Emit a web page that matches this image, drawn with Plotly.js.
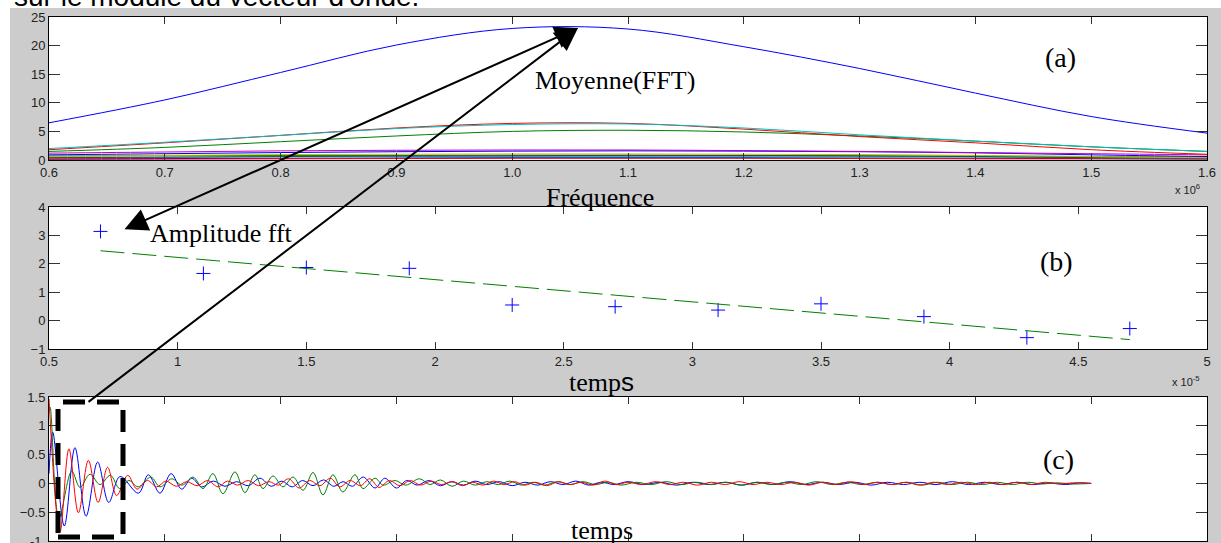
<!DOCTYPE html>
<html><head><meta charset="utf-8">
<script src="https://cdn.plot.ly/plotly-3.0.1.min.js"></script>
<style>html,body{margin:0;padding:0;background:#fff;}#chart{width:1221px;height:543px;}</style>
</head><body><div id="chart"></div>
<script>
// ---------- Panel (a): spectra vs frequency (x 10^6) ----------
const freq = [0.6, 0.7, 0.8, 0.9, 1.0, 1.1, 1.2, 1.3, 1.4, 1.5, 1.6];
const fftMean   = [6.5, 10.5, 15.3, 20.1, 23.0, 22.9, 19.8, 16.0, 11.7, 7.6, 4.7];
const fftRed    = [1.8, 3.0, 4.3, 5.6, 6.4, 6.4, 5.4, 4.1, 3.0, 1.8, 1.0];
const fftCyan   = [2.0, 3.1, 4.3, 5.5, 6.2, 6.3, 5.6, 4.4, 3.3, 2.3, 1.5];
const fftGreen  = [1.5, 2.2, 3.2, 4.2, 5.0, 5.2, 4.9, 4.2, 3.3, 2.3, 1.5];
const fftMag    = [1.2, 1.4, 1.6, 1.7, 1.75, 1.75, 1.65, 1.5, 1.3, 1.1, 0.9];
const fftBlue2  = [0.9, 1.1, 1.3, 1.45, 1.55, 1.6, 1.55, 1.45, 1.25, 0.9, 0.6];
const fftYellow = [0.6, 0.8, 0.95, 1.0, 1.05, 1.05, 1.0, 0.95, 0.8, 0.6, 0.4];
const fftBlack  = [0.4, 0.5, 0.6, 0.7, 0.75, 0.8, 0.8, 0.7, 0.6, 0.4, 0.3];
const fftGreen2 = [0.7, 0.75, 0.8, 0.8, 0.85, 0.85, 0.8, 0.75, 0.7, 0.6, 0.5];
const fftCyan2  = [0.4, 0.45, 0.55, 0.6, 0.6, 0.6, 0.6, 0.55, 0.5, 0.4, 0.3];
const fftBlue3  = [0.2, 0.25, 0.3, 0.35, 0.4, 0.4, 0.4, 0.35, 0.3, 0.25, 0.2];
const fftRed2   = [0.1, 0.15, 0.2, 0.25, 0.3, 0.3, 0.3, 0.25, 0.2, 0.2, 0.15];

// ---------- Panel (b): amplitude vs time (x 10^-5) ----------
const tAmp = [0.7, 1.1, 1.5, 1.9, 2.3, 2.7, 3.1, 3.5, 3.9, 4.3, 4.7];
const amp  = [3.14, 1.66, 1.87, 1.84, 0.55, 0.49, 0.37, 0.59, 0.14, -0.60, -0.28];
const tFit = [0.7, 4.7];
const ampFit = [2.46, -0.67];

// ---------- Panel (c): signals vs time (extrema) ----------
const tBlue = [0, 0.16, 0.66, 1.12, 1.60, 2.10, 2.58, 3.07, 3.86, 4.29, 4.79, 5.27, 5.73, 6.16, 6.59, 7.10, 7.60, 8.10, 8.60, 9.11, 9.60, 10.05, 10.50, 10.95, 11.40, 11.85, 12.30, 12.70, 13.10, 13.57, 14.08, 14.50, 15.00, 15.45, 15.90, 16.40, 16.90, 17.40, 17.90, 18.40, 18.90, 19.45, 20.00, 20.55, 21.10, 21.65, 22.20, 22.75, 23.30, 23.85, 24.40, 25.00, 25.70, 26.40, 27.10, 27.80, 28.50, 29.20, 29.90, 30.60, 31.30, 32.00, 32.70, 33.40, 34.10, 34.80, 35.50, 36.20, 36.90, 37.60, 38.30, 39.00, 39.70, 40.40, 41.10, 41.80, 42.50, 43.20, 43.90, 44.50, 45.00];
const sBlue = [0.17, 0.89, -0.74, 0.62, -0.57, 0.37, -0.33, 0.12, -0.17, 0.15, -0.17, 0.17, -0.10, 0.09, -0.06, 0.04, -0.05, 0.03, -0.04, 0.09, -0.05, 0.04, -0.06, 0.05, -0.04, 0.06, -0.05, 0.03, -0.05, 0.11, -0.08, 0.09, -0.08, 0.05, -0.03, 0.05, -0.04, 0.03, -0.03, 0.04, -0.02, 0.03, -0.04, 0.02, -0.03, 0.03, -0.02, 0.04, -0.03, 0.02, -0.02, 0.03, -0.02, 0.02, -0.03, 0.02, -0.02, 0.02, -0.03, 0.02, -0.02, 0.03, -0.02, 0.02, -0.02, 0.02, -0.03, 0.02, -0.02, 0.02, -0.02, 0.03, -0.02, 0.02, -0.02, 0.02, -0.02, 0.01, -0.02, 0.01, 0.0];
const tGreen = [0, 0.05, 0.43, 0.98, 1.34, 1.77, 2.20, 2.65, 3.05, 3.45, 3.85, 4.40, 4.79, 5.30, 5.75, 6.22, 6.65, 7.08, 7.51, 8.03, 8.46, 8.89, 9.24, 9.67, 10.10, 10.54, 10.97, 11.40, 11.83, 12.26, 12.69, 13.21, 13.56, 14.08, 14.42, 14.94, 15.40, 16.00, 16.45, 16.90, 17.40, 17.90, 18.40, 18.90, 19.40, 19.90, 20.40, 20.90, 21.40, 21.95, 22.50, 23.05, 23.60, 24.15, 24.70, 25.35, 26.00, 26.65, 27.30, 27.95, 28.60, 29.25, 29.90, 30.55, 31.20, 31.85, 32.50, 33.15, 33.80, 34.45, 35.10, 35.75, 36.40, 37.05, 37.70, 38.35, 39.00, 39.65, 40.30, 40.95, 41.60, 42.25, 42.90, 43.55, 44.20, 45.00];
const sGreen = [1.25, 1.32, -0.60, 0.21, -0.07, 0.16, -0.02, 0.14, -0.09, 0.05, -0.06, 0.11, -0.06, 0.08, -0.03, 0.11, -0.09, 0.17, -0.18, 0.20, -0.16, 0.15, -0.09, 0.13, -0.06, 0.11, -0.12, 0.19, -0.20, 0.15, -0.15, 0.15, -0.09, 0.09, -0.03, 0.05, -0.03, 0.08, -0.02, 0.06, -0.05, 0.04, -0.03, 0.03, -0.02, 0.04, -0.03, 0.02, -0.03, 0.03, -0.02, 0.03, -0.02, 0.02, -0.03, 0.02, -0.02, 0.03, -0.02, 0.02, -0.02, 0.02, -0.03, 0.02, -0.02, 0.02, -0.02, 0.03, -0.02, 0.02, -0.02, 0.02, -0.02, 0.02, -0.03, 0.02, -0.02, 0.02, -0.02, 0.02, -0.02, 0.02, -0.01, 0.01, -0.01, 0.0];
const tRed = [0, 0.47, 0.86, 1.27, 1.70, 2.12, 2.53, 2.92, 3.40, 3.80, 4.25, 4.65, 5.05, 5.50, 5.95, 6.40, 6.85, 7.30, 7.70, 8.15, 8.60, 9.05, 9.50, 9.90, 10.35, 10.80, 11.25, 11.70, 12.15, 12.55, 13.00, 13.45, 13.85, 14.25, 14.70, 15.15, 15.60, 16.05, 16.50, 16.95, 17.40, 17.85, 18.30, 18.75, 19.20, 19.65, 20.10, 20.55, 21.00, 21.50, 22.00, 22.50, 23.00, 23.50, 24.00, 24.50, 25.00, 25.60, 26.20, 26.80, 27.40, 28.00, 28.60, 29.20, 29.80, 30.40, 31.00, 31.60, 32.20, 32.80, 33.40, 34.00, 34.60, 35.20, 35.80, 36.40, 37.00, 37.60, 38.20, 38.80, 39.40, 40.00, 40.60, 41.20, 41.80, 42.40, 43.00, 43.60, 44.20, 45.00];
const sRed = [1.47, -0.85, 0.60, -0.51, 0.40, -0.33, 0.28, -0.21, 0.14, -0.10, 0.05, -0.06, 0.04, -0.05, 0.03, -0.04, 0.05, -0.06, 0.04, -0.03, 0.05, -0.04, 0.03, -0.03, 0.08, -0.08, 0.05, -0.04, 0.09, -0.06, 0.05, -0.04, 0.08, -0.07, 0.05, -0.04, 0.05, -0.03, 0.04, -0.02, 0.03, -0.04, 0.02, -0.03, 0.04, -0.02, 0.03, -0.03, 0.02, -0.04, 0.03, -0.02, 0.02, -0.03, 0.04, -0.02, 0.02, -0.02, 0.03, -0.02, 0.02, -0.03, 0.02, -0.02, 0.03, -0.02, 0.02, -0.02, 0.02, -0.03, 0.02, -0.02, 0.03, -0.02, 0.02, -0.02, 0.02, -0.03, 0.02, -0.02, 0.02, -0.02, 0.02, -0.02, 0.02, -0.02, 0.02, -0.01, 0.01, 0.0];

// ---------- layout helpers (pixel -> paper) ----------
const W = 1221, H = 543;
const px = x => x / W;
const py = y => 1 - y / H;

const C = {b:'#0000ff', g:'#008000', r:'#ff0000', c:'#00bfbf', m:'#bf00bf', y:'#bfbf00', k:'#404040'};
const fftSets = [
  [fftBlue3, C.b], [fftRed2, C.r], [fftCyan2, C.c], [fftGreen2, C.g], [fftBlack, C.k],
  [fftYellow, C.y], [fftBlue2, C.b], [fftMag, C.m], [fftGreen, C.g], [fftRed, C.r],
  [fftCyan, C.c], [fftMean, C.b]
];
const traces = fftSets.map(([v, col]) => ({
  x: freq, y: v, xaxis:'x', yaxis:'y', mode:'lines',
  line:{color:col, width:1, shape:'spline', smoothing:1}, hoverinfo:'skip'
}));
traces.push({x: tAmp, y: amp, xaxis:'x2', yaxis:'y2', mode:'markers',
  marker:{symbol:'cross-thin', size:10, line:{color:'#0000ff', width:1}}});
traces.push({x: tFit, y: ampFit, xaxis:'x2', yaxis:'y2', mode:'lines',
  line:{color:'#008000', width:1, dash:'24px,8px'}});
[[tBlue, sBlue, C.b], [tGreen, sGreen, C.g], [tRed, sRed, C.r]].forEach(([t, s, col]) => {
  traces.push({x: t, y: s, xaxis:'x3', yaxis:'y3', mode:'lines',
    line:{color:col, width:1, shape:'spline', smoothing:1}});
});

const xDom = [px(49), px(1207)];
const sans = 'Liberation Sans, Arial, sans-serif';
const tickFont = {family:sans, size:13, color:'#222'};
const axBase = {showline:true, linecolor:'#000', linewidth:1, mirror:'ticks', ticks:'inside',
  tickcolor:'#333', showgrid:false, zeroline:false, tickfont:tickFont, fixedrange:true};

const serif = 'Liberation Serif, Times New Roman, serif';
const ann = (text, x, y, size, extra) => Object.assign({text, x:px(x), y:py(y), xref:'paper', yref:'paper',
  showarrow:false, xanchor:'center', yanchor:'middle', font:{family:serif, size:size, color:'#000'}}, extra||{});

const layout = {
  width: W, height: H, margin:{l:0, r:0, t:0, b:0},
  paper_bgcolor:'#cccccc', plot_bgcolor:'#ffffff', showlegend:false,
  xaxis: Object.assign({}, axBase, {domain:xDom, anchor:'y', range:[0.6, 1.6], dtick:0.1, ticklen:7, tickformat:'.1f'}),
  yaxis: Object.assign({}, axBase, {domain:[py(160), py(17)], anchor:'x', range:[0, 25], dtick:5, ticklen:11}),
  xaxis2: Object.assign({}, axBase, {domain:xDom, anchor:'y2', range:[0.5, 5], dtick:0.5, ticklen:7}),
  yaxis2: Object.assign({}, axBase, {domain:[py(349), py(207)], anchor:'x2', range:[-1, 4], dtick:1, ticklen:11}),
  xaxis3: Object.assign({}, axBase, {domain:xDom, anchor:'y3', range:[0, 50], dtick:5, ticklen:7, showticklabels:false}),
  yaxis3: Object.assign({}, axBase, {domain:[py(541), py(397)], anchor:'x3', range:[-1, 1.5], dtick:0.5, ticklen:11}),
  shapes: [
    {type:'rect', xref:'paper', yref:'paper', x0:0, x1:px(10), y0:0, y1:1, fillcolor:'#fff', line:{width:0}, layer:'below'},
    {type:'rect', xref:'paper', yref:'paper', x0:0, x1:1, y0:py(8), y1:1, fillcolor:'#fff', line:{width:0}, layer:'below'},
    {type:'rect', xref:'paper', yref:'paper', x0:px(58), x1:px(123), y0:py(537), y1:py(402),
      line:{color:'#000', width:5, dash:'22px,12px'}, fillcolor:'rgba(0,0,0,0)', layer:'above'}
  ],
  annotations: [
    {text:"sur le module du vecteur d'onde.", x:px(12), y:py(14), xref:'paper', yref:'paper', showarrow:false,
      xanchor:'left', yanchor:'bottom', font:{family:sans, size:28, color:'#000'}},
    {text:'-1', x:px(44), y:py(541), xref:'paper', yref:'paper', showarrow:false,
      xanchor:'right', yanchor:'middle', font:tickFont},
    ann('Moyenne(FFT)', 615, 80, 26),
    ann('(a)', 1060, 58, 28),
    ann('Fréquence', 600, 197, 26),
    ann('Amplitude fft', 221, 233, 26),
    ann('(b)', 1056, 261, 28),
    ann('temp<span style="font-family:Liberation Sans, Arial, sans-serif">s</span>', 601, 382, 26),
    ann('(c)', 1058, 459, 28),
    ann('temps', 602, 530, 26),
    ann('x 10<sup>6</sup>', 1187, 189, 11, {font:{family:sans, size:11, color:'#222'}}),
    ann('x 10<sup>-5</sup>', 1186, 381, 11, {font:{family:sans, size:11, color:'#222'}}),
    {text:'', x:px(578), y:py(28), xref:'paper', yref:'paper', axref:'pixel', ayref:'pixel', ax:-455, ay:202,
      showarrow:true, arrowhead:2, arrowsize:2.3, arrowwidth:2, arrowcolor:'#000',
      arrowside:'end+start', startarrowhead:2, startarrowsize:2.3},
    {text:'', x:px(578), y:py(28), xref:'paper', yref:'paper', axref:'pixel', ayref:'pixel', ax:-491, ay:375,
      showarrow:true, arrowhead:2, arrowsize:2.3, arrowwidth:2, arrowcolor:'#000'}
  ]
};
Plotly.newPlot('chart', traces, layout, {staticPlot:true, displayModeBar:false});
</script></body></html>
